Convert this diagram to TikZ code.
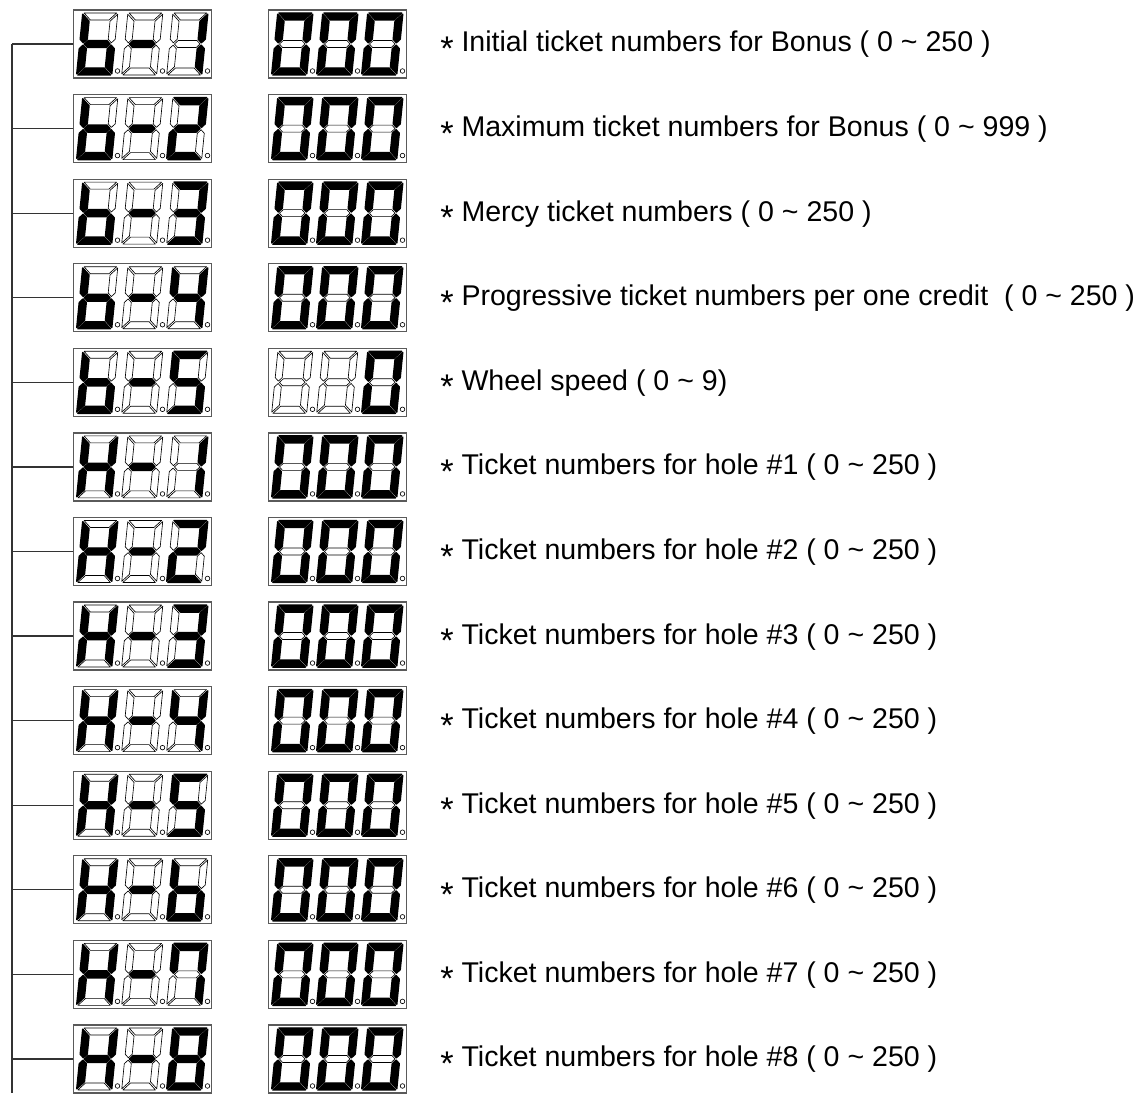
\documentclass[tikz,border=0pt]{standalone}
\usepackage{fontspec}
\setmainfont{Liberation Sans}
\usetikzlibrary{positioning}
\definecolor{boxGray}{HTML}{5A5A5A}
\definecolor{wireDark}{HTML}{333333}

\tikzset{
  seg0/.style={draw=black, line width=0.45pt, fill=white, line join=round},
  seg1/.style={draw=black, fill=black, line width=1pt, line join=round},
  lit/.code={\tikzset{s#1/.style=seg1}},
  glyph b/.style={lit/.list={c,d,e,f,g}},
  glyph H/.style={lit/.list={b,c,e,f,g}},
  glyph -/.style={lit=g},
  glyph 0/.style={lit/.list={a,b,c,d,e,f}},
  glyph 1/.style={lit/.list={b,c}},
  glyph 2/.style={lit/.list={a,b,d,e,g}},
  glyph 3/.style={lit/.list={a,b,c,d,g}},
  glyph 4/.style={lit/.list={b,c,f,g}},
  glyph 5/.style={lit/.list={a,c,d,f,g}},
  glyph 6/.style={lit/.list={c,d,e,f,g}},
  glyph 7/.style={lit/.list={a,b,c,f}},
  glyph 8/.style={lit/.list={a,b,c,d,e,f,g}},
  glyph n/.style={},
  % digit 28 wide, 55 high, bars 7 thick, slanted
  pics/seg7/.style={code={
    \tikzset{sa/.style=seg0, sb/.style=seg0, sc/.style=seg0, sd/.style=seg0,
      se/.style=seg0, sf/.style=seg0, sg/.style=seg0, glyph #1}
    \begin{scope}[xslant=0.1]
      \path[sa] (-2.3,58.5) -- (30.3,58.5) -- (23.3,51.5) -- (4.7,51.5) -- cycle;
      \path[sg] (4.7,31) -- (23.3,31) -- (26.8,27.5) -- (23.3,24) -- (4.7,24) -- (1.2,27.5) -- cycle;
      \path[sd] (-2.3,-3.5) -- (4.7,3.5) -- (23.3,3.5) -- (30.3,-3.5) -- cycle;
      \path[sf] (-3.5,57.3) -- (3.5,50.3) -- (3.5,32.2) -- (0,28.7) -- (-3.5,32.2) -- cycle;
      \path[se] (-3.5,-2.3) -- (3.5,4.7) -- (3.5,22.8) -- (0,26.3) -- (-3.5,22.8) -- cycle;
      \path[sb] (31.5,57.3) -- (24.5,50.3) -- (24.5,32.2) -- (28,28.7) -- (31.5,32.2) -- cycle;
      \path[sc] (31.5,-2.3) -- (24.5,4.7) -- (24.5,22.8) -- (28,26.3) -- (31.5,22.8) -- cycle;
    \end{scope}
    \draw[line width=0.45pt] (37,0.5) circle[radius=2.3];
  }},
}

\begin{document}
\begin{tikzpicture}[x=0.025cm, y=0.025cm,
    dispbox/.style={rectangle, draw=boxGray, line width=0.9pt, inner sep=0pt,
      minimum width=3.45cm, minimum height=1.7cm},
    wire/.style={line width=0.9pt, wireDark},
    lbl/.style={font=\fontsize{20.3}{24}\selectfont, inner sep=0pt, text=black}]
  \useasboundingbox (0,0) rectangle (1142,1093);
  \coordinate (top) at (12,1049);
  \coordinate (bot) at (12,0);
  \draw[wire] (top) -- (bot);
  \foreach \i/\pre/\num/\ra/\rb/\txt in {
      0/b/1/0/0/{Initial ticket numbers for Bonus ( 0 \textasciitilde{} 250 )},
      1/b/2/0/0/{Maximum ticket numbers for Bonus ( 0 \textasciitilde{} 999 )},
      2/b/3/0/0/{Mercy ticket numbers ( 0 \textasciitilde{} 250 )},
      3/b/4/0/0/{Progressive ticket numbers per one credit \ ( 0 \textasciitilde{} 250 )},
      4/b/5/n/n/{Wheel speed ( 0 \textasciitilde{} 9)},
      5/H/1/0/0/{Ticket numbers for hole \#1 ( 0 \textasciitilde{} 250 )},
      6/H/2/0/0/{Ticket numbers for hole \#2 ( 0 \textasciitilde{} 250 )},
      7/H/3/0/0/{Ticket numbers for hole \#3 ( 0 \textasciitilde{} 250 )},
      8/H/4/0/0/{Ticket numbers for hole \#4 ( 0 \textasciitilde{} 250 )},
      9/H/5/0/0/{Ticket numbers for hole \#5 ( 0 \textasciitilde{} 250 )},
      10/H/6/0/0/{Ticket numbers for hole \#6 ( 0 \textasciitilde{} 250 )},
      11/H/7/0/0/{Ticket numbers for hole \#7 ( 0 \textasciitilde{} 250 )},
      12/H/8/0/0/{Ticket numbers for hole \#8 ( 0 \textasciitilde{} 250 )}} {
    \pgfmathsetmacro\y{1049-84.58*\i}
    \node[dispbox] (L\i) at (142.5,\y) {};
    \node[dispbox] (R\i) at (337.5,\y) {};
    \pic at (80.5,\y-27.5) {seg7=\pre};
    \pic at (125.5,\y-27.5) {seg7=-};
    \pic at (170.5,\y-27.5) {seg7=\num};
    \pic at (275.5,\y-27.5) {seg7=\ra};
    \pic at (320.5,\y-27.5) {seg7=\rb};
    \pic at (365.5,\y-27.5) {seg7=0};
    \draw[wire] (L\i.west) -- (L\i.west -| top);
    \node[lbl, anchor=base west] (T\i) at (440,\y-8) {\raisebox{-0.3em}{\scalebox{1.2}{*}} \txt};
  }
\end{tikzpicture}
\end{document}
